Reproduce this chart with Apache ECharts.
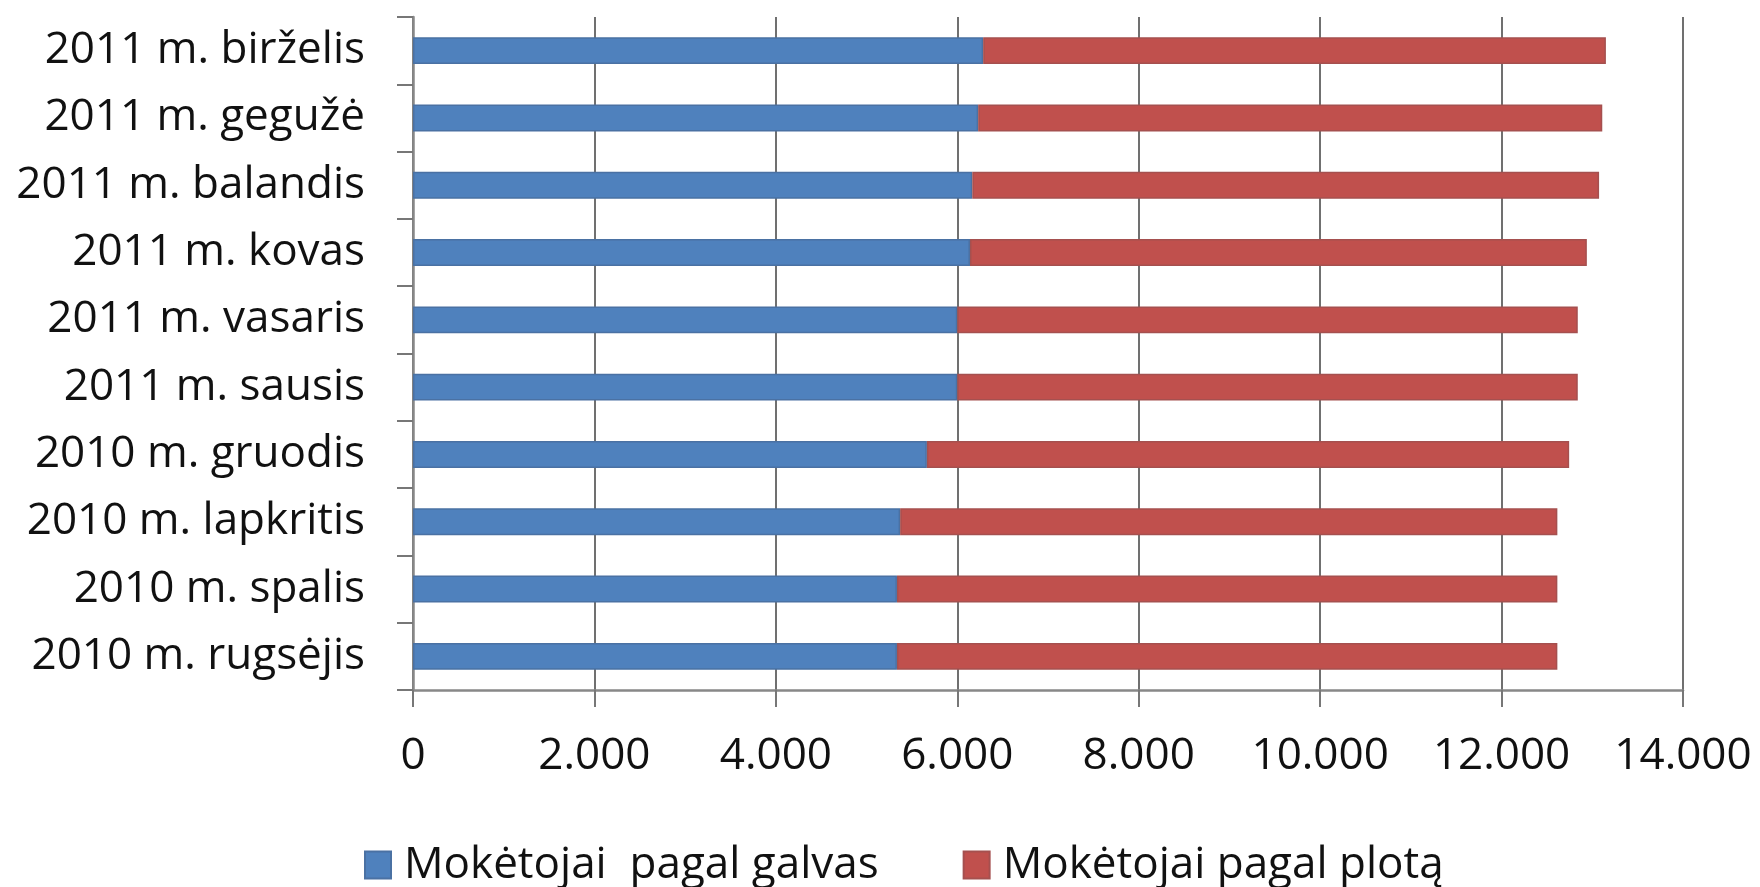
<!DOCTYPE html>
<html>
<head>
<meta charset="utf-8">
<script src="https://cdn.jsdelivr.net/npm/echarts@6/dist/echarts.min.js"></script>
<style>
html,body{margin:0;padding:0;background:#fff;}
#chart{width:1760px;height:887px;}
</style>
</head>
<body>
<div id="chart"></div>
<script>
var categories = [
  '2010 m. rugsėjis', '2010 m. spalis', '2010 m. lapkritis', '2010 m. gruodis',
  '2011 m. sausis', '2011 m. vasaris', '2011 m. kovas', '2011 m. balandis',
  '2011 m. gegužė', '2011 m. birželis'
];
var seriesNames = ['Mokėtojai  pagal galvas', 'Mokėtojai pagal plotą'];
var galvas = [5335, 5335, 5370, 5665, 6000, 6000, 6140, 6165, 6230, 6285];
var plotas = [7280, 7280, 7245, 7080, 6840, 6840, 6800, 6910, 6880, 6865];
var xTicks = { min: 0, max: 14000, interval: 2000 };

var FONT = '"Open Sans", sans-serif';
var chart = echarts.init(document.getElementById('chart'), null, { renderer: 'canvas' });
chart.setOption({
  animation: false,
  backgroundColor: '#ffffff',
  grid: { left: 413, right: 77, top: 17, bottom: 197, containLabel: false },
  legend: {
    left: 359, top: 838,
    itemWidth: 26, itemHeight: 27, itemGap: 84,
    icon: 'rect',
    textStyle: { fontFamily: FONT, fontSize: 44, color: '#111', padding: [0, 0, 0, 8] },
    data: seriesNames
  },
  xAxis: {
    type: 'value',
    min: xTicks.min, max: xTicks.max, interval: xTicks.interval,
    axisLine: { show: true, lineStyle: { color: '#888888', width: 2.5 } },
    axisTick: { show: true, length: 17, lineStyle: { color: '#777777', width: 2 } },
    splitLine: { show: true, lineStyle: { color: '#707070', width: 2 } },
    axisLabel: {
      margin: 44,
      fontFamily: FONT, fontSize: 44, color: '#111',
      formatter: function (v) { return String(v).replace(/\B(?=(\d{3})+(?!\d))/g, '.'); }
    }
  },
  yAxis: {
    type: 'category',
    data: categories,
    axisLine: { show: true, lineStyle: { color: '#888888', width: 2.5 } },
    axisTick: { show: true, length: 16, lineStyle: { color: '#777777', width: 2 } },
    axisLabel: { margin: 48, fontFamily: FONT, fontSize: 44, color: '#111' }
  },
  series: [
    {
      name: seriesNames[0], type: 'bar', stack: 'total', data: galvas,
      barWidth: '40%',
      itemStyle: { color: '#4F81BD', borderColor: '#4a71a3', borderWidth: 1.5 }
    },
    {
      name: seriesNames[1], type: 'bar', stack: 'total', data: plotas,
      barWidth: '40%',
      itemStyle: { color: '#C0504D', borderColor: '#a5504f', borderWidth: 1.5 }
    }
  ]
});
</script>
</body>
</html>
